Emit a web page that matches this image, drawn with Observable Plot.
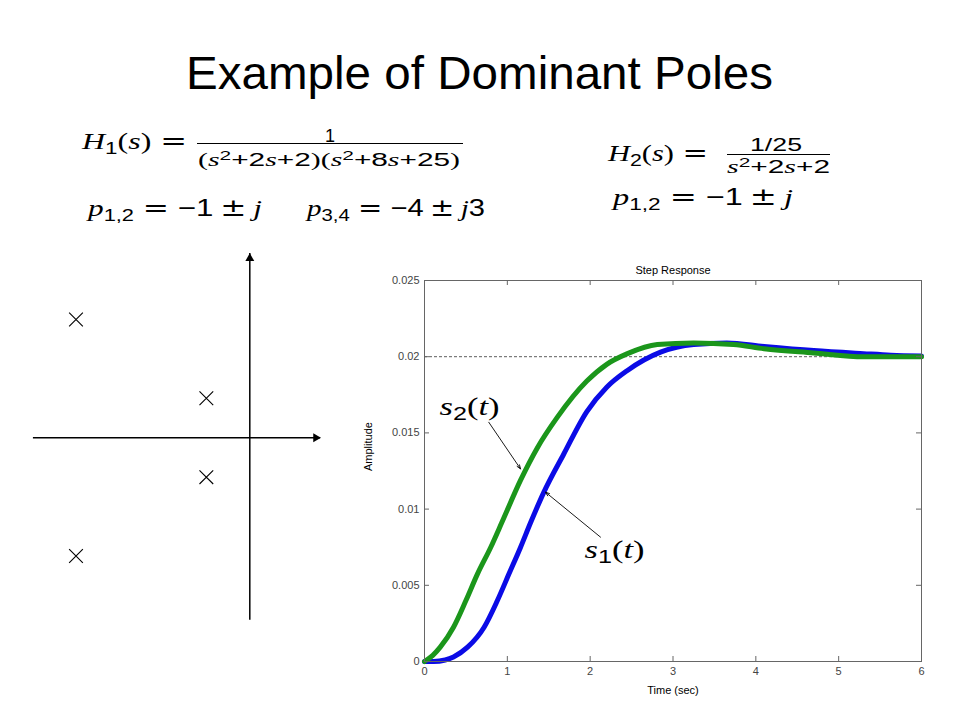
<!DOCTYPE html>
<html><head><meta charset="utf-8">
<script src="https://cdn.jsdelivr.net/npm/d3@7"></script>
<script src="https://cdn.jsdelivr.net/npm/@observablehq/plot@0.6"></script>
<style>
html,body{margin:0;padding:0;background:#fff;}
#page{position:relative;width:960px;height:720px;overflow:hidden;background:#fff;}
.piece{position:absolute;left:0;top:0;white-space:nowrap;line-height:1.2;font-family:"Liberation Sans",Arial,sans-serif;color:#000;transform-origin:0 0;}
.v{font-family:"Liberation Serif","DejaVu Serif",serif;font-style:italic;}
.pr{font-family:"Liberation Serif","DejaVu Serif",serif;}
.op{font-family:"DejaVu Sans",sans-serif;}
.sb{font-size:70%;position:relative;top:0.3em;}
.sp{font-size:70%;position:relative;top:-0.5em;}
.relL{margin-left:0.28em;}
.rel{margin:0 0.28em;}
.bin{margin:0 0.22em;}
.bl{display:inline-block;width:0;height:0;vertical-align:baseline;}
.bar{position:absolute;height:0;border-top:1.3px solid #000;}
.plot{position:absolute;}
</style></head><body><div id="page"></div>
<script>
// ---------- data: pole diagram ----------
const poleRe = [-1, -1, -4, -4];
const poleIm = [1, -1, 3, -3];
const reAxisExtent = [-4.98, 1.63];
const imAxisExtent = [-4.63, 4.67];

// ---------- data: step responses ----------
const t2 = [0, 0.10, 0.19, 0.35, 0.50, 0.64, 0.80, 0.94, 1.16, 1.36, 1.60, 1.96, 2.20, 2.45, 2.81, 3.25, 3.73, 4.10, 4.70, 5.30, 6.00];
const s2 = [0, 0.0004, 0.00094, 0.00225, 0.0040, 0.00575, 0.0075, 0.0092, 0.0119, 0.0140, 0.0160, 0.0184, 0.0195, 0.0202, 0.0208, 0.0209, 0.0208, 0.02052, 0.02025, 0.0200, 0.0200];
const t1 = [0, 0.11, 0.25, 0.35, 0.52, 0.72, 0.88, 1.02, 1.16, 1.28, 1.44, 1.68, 1.96, 2.20, 2.45, 2.85, 3.25, 3.65, 4.10, 4.70, 5.30, 5.63, 6.00];
const s1 = [0, 0, 0.0001, 0.0003, 0.00094, 0.00225, 0.0040, 0.00575, 0.0075, 0.0091, 0.0111, 0.0136, 0.0164, 0.0180, 0.0191, 0.0203, 0.0208, 0.0209, 0.02067, 0.0204, 0.0202, 0.0201, 0.02005];
const xTicks = [0, 1, 2, 3, 4, 5, 6];
const yTicks = [0, 0.005, 0.01, 0.015, 0.02, 0.025];
const finalValue = [0.02];
const annoText = ["s2(t)", "s1(t)"];
const annoT = [0.543, 2.294];
const annoV = [0.0167, 0.00732];
const arrowFromT = [0.776, 2.125];
const arrowFromV = [0.0157, 0.00816];
const arrowToT = [1.159, 1.461];
const arrowToV = [0.01264, 0.01111];

const page = document.getElementById("page");

// ---------- text layout (title and formulas) ----------
const V = s => `<span class="v">${s}</span>`;
const P = s => `<span class="pr">${s}</span>`;
const SB = s => `<span class="sb">${s}</span>`;
const SP = s => `<span class="sp">${s}</span>`;
const layoutText = [
  {html: "Example of Dominant Poles", cx: 479.5, base: 89, w: 587, size: 47},
  {html: V("H") + SB("1") + P("(") + V("s") + P(")") + '<span class="op relL">=</span>', x: 82, base: 149, w: 105, size: 24},
  {html: "1", cx: 330, base: 142, size: 18},
  {html: P("(") + V("s") + SP("2") + "+2" + V("s") + "+2" + P(")") + P("(") + V("s") + SP("2") + "+8" + V("s") + "+25" + P(")"), cx: 329, base: 166, w: 262, size: 18},
  {html: V("p") + SB("1,2") + '<span class="op rel">=</span>\u22121<span class="op bin">\u00b1</span>' + V("j"), x: 88, base: 216, w: 174, size: 24},
  {html: V("p") + SB("3,4") + '<span class="op rel">=</span>\u22124<span class="op bin">\u00b1</span>' + V("j") + "3", x: 307, base: 216, w: 178, size: 24},
  {html: V("H") + SB("2") + P("(") + V("s") + P(")") + '<span class="op relL">=</span>', x: 608, base: 160.7, w: 100, size: 24},
  {html: "1/25", cx: 776, base: 151, w: 52, size: 18},
  {html: V("s") + SP("2") + "+2" + V("s") + "+2", cx: 778.5, base: 173, w: 103, size: 18},
  {html: V("p") + SB("1,2") + '<span class="op rel">=</span>\u22121<span class="op bin">\u00b1</span>' + V("j"), x: 613, base: 205, w: 180, size: 24}
];
const fractionBars = [{x: 197, y: 143, w: 266}, {x: 727, y: 154, w: 103}];

for (const p of layoutText) {
  const d = document.createElement("div");
  d.className = "piece";
  d.style.fontSize = p.size + "px";
  d.innerHTML = p.html + '<span class="bl"></span>';
  page.appendChild(d);
  const r = d.getBoundingClientRect();
  const bl = d.querySelector(".bl").getBoundingClientRect().bottom - r.top;
  const w = p.w || r.width;
  const k = w / r.width;
  d.style.top = (p.base - bl) + "px";
  d.style.left = (p.x != null ? p.x : p.cx - w / 2) + "px";
  d.style.transform = `scaleX(${k})`;
}
for (const b of fractionBars) {
  const d = document.createElement("div");
  d.className = "bar";
  d.style.left = b.x + "px";
  d.style.top = b.y + "px";
  d.style.width = b.w + "px";
  page.appendChild(d);
}

// ---------- pole diagram ----------
const poles = poleRe.map((re, i) => ({re, im: poleIm[i]}));
const pz = Plot.plot({
  width: 340, height: 420, margin: 0,
  style: {background: "transparent"},
  x: {domain: [-4, 0], range: [75.5, 249.3], axis: null},
  y: {domain: [-3, 3], range: [315.5, 78.9], axis: null},
  marks: [
    Plot.ruleY([0], {x1: reAxisExtent[0], x2: reAxisExtent[1], stroke: "#000", strokeWidth: 1.5}),
    Plot.ruleX([0], {y1: imAxisExtent[0], y2: imAxisExtent[1], stroke: "#000", strokeWidth: 1.5}),
    Plot.dot([reAxisExtent[1]], {x: d => d, y: 0, symbol: "triangle", r: 3.3, fill: "#000", rotate: 90, dx: -4.8}),
    Plot.dot([imAxisExtent[1]], {x: 0, y: d => d, symbol: "triangle", r: 3.3, fill: "#000", dy: 4.8}),
    Plot.dot(poles, {x: "re", y: "im", symbol: "times", r: 6.3, stroke: "#000", strokeWidth: 1.1})
  ]
});
pz.classList.add("plot");
pz.style.left = "0px"; pz.style.top = "240px";
page.appendChild(pz);

// ---------- step response ----------
const curve1 = t1.map((t, i) => ({t, v: s1[i]}));
const curve2 = t2.map((t, i) => ({t, v: s2[i]}));
const annos = annoText.map((text, i) => ({text, t: annoT[i], v: annoV[i]}));
const arrows = arrowFromT.map((t, i) => ({t1: t, v1: arrowFromV[i], t2: arrowToT[i], v2: arrowToV[i]}));
const frameC = "#666";
const sp = Plot.plot({
  width: 600, height: 460, marginLeft: 84, marginRight: 19, marginTop: 30, marginBottom: 49,
  style: {fontFamily: "'Liberation Sans', Arial, sans-serif", fontSize: "11px", background: "transparent", color: "#000"},
  x: {domain: [0, 6]},
  y: {domain: [0, 0.025]},
  marks: [
    Plot.ruleY(finalValue, {stroke: "#333", strokeWidth: 0.8, strokeDasharray: "3,2"}),
    Plot.line(curve1, {x: "t", y: "v", stroke: "#0b0be6", strokeWidth: 5, curve: "monotone-x"}),
    Plot.line(curve2, {x: "t", y: "v", stroke: "#1b961b", strokeWidth: 5, curve: "monotone-x"}),
    Plot.frame({stroke: frameC}),
    Plot.ruleX(xTicks, {x: d => d, insetTop: 376, stroke: frameC}),
    Plot.ruleX(xTicks, {x: d => d, insetBottom: 376, stroke: frameC}),
    Plot.ruleY(yTicks, {y: d => d, insetRight: 492, stroke: frameC}),
    Plot.ruleY(yTicks, {y: d => d, insetLeft: 492, stroke: frameC}),
    Plot.axisX({ticks: xTicks, tickSize: 0, tickPadding: 6, tickFormat: d => String(d), color: "#444", label: null}),
    Plot.axisY({ticks: yTicks, tickSize: 0, tickPadding: 5, tickFormat: d => String(d), color: "#444", label: null}),
    Plot.text(["Step Response"], {frameAnchor: "top", dy: -14, fontSize: 11}),
    Plot.text(["Time (sec)"], {frameAnchor: "bottom", dy: 32, fontSize: 11}),
    Plot.text(["Amplitude"], {frameAnchor: "left", dx: -56, rotate: -90, fontSize: 11}),
    Plot.arrow(arrows, {x1: "t1", y1: "v1", x2: "t2", y2: "v2", stroke: "#000", strokeWidth: 0.9, headLength: 7, headAngle: 40}),
    Plot.text(annos, {x: "t", y: "v", text: "text", fontSize: 26, fill: "#000"})
  ]
});
sp.classList.add("plot");
sp.style.left = "340px"; sp.style.top = "250px";
page.appendChild(sp);

// typeset the curve labels as s_k(t)
const NS = "http://www.w3.org/2000/svg";
sp.querySelectorAll("text").forEach(el => {
  const m = /^s(\d)\(t\)$/.exec(el.textContent);
  if (!m) return;
  el.textContent = "";
  const add = (str, attrs) => {
    const ts = document.createElementNS(NS, "tspan");
    ts.textContent = str;
    for (const k in attrs) ts.setAttribute(k, attrs[k]);
    el.appendChild(ts);
  };
  const serif = "'Liberation Serif','DejaVu Serif',serif";
  add("s", {"font-family": serif, "font-style": "italic"});
  add(m[1], {"font-family": "'Liberation Sans',Arial,sans-serif", "font-size": "19", dy: "5"});
  add("(", {"font-family": serif, dy: "-5"});
  add("t", {"font-family": serif, "font-style": "italic"});
  add(")", {"font-family": serif});
  el.setAttribute("textLength", "60");
  el.setAttribute("lengthAdjust", "spacingAndGlyphs");
});
</script></body></html>
